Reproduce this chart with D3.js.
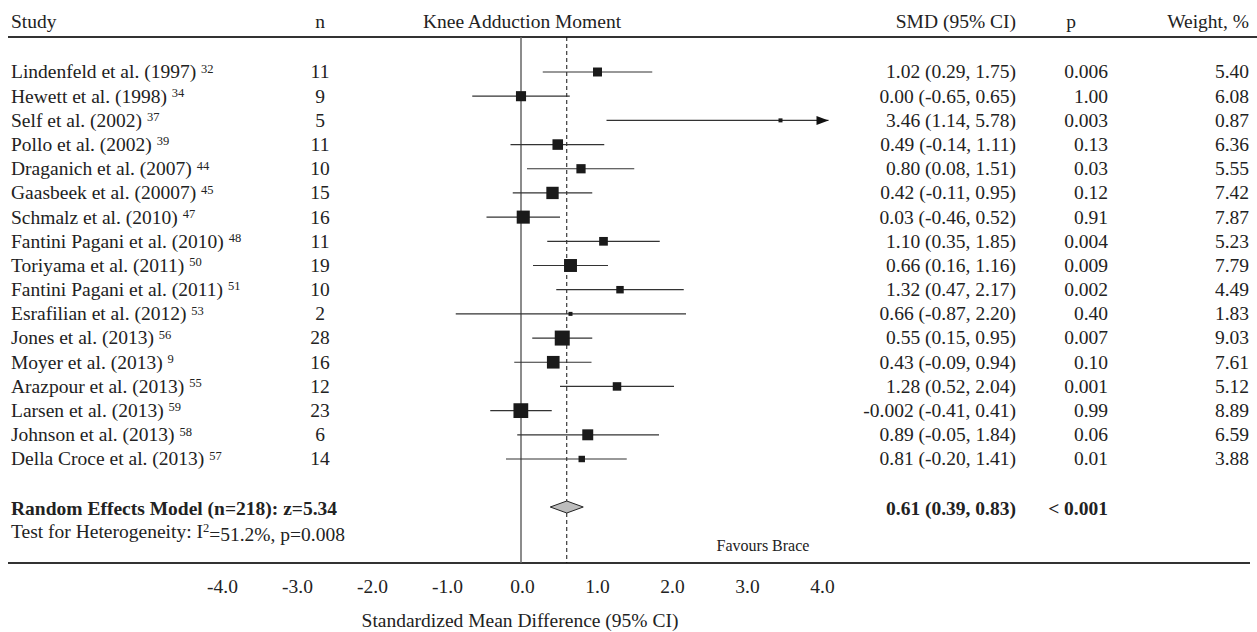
<!DOCTYPE html>
<html>
<head>
<meta charset="utf-8">
<script src="https://cdn.jsdelivr.net/npm/d3@7"></script>
<style>
  body { margin: 0; background: #fff; }
  text { font-family: "Liberation Serif", "Times New Roman", serif; fill: #222; }
</style>
</head>
<body>
<svg id="chart"></svg>
<script>
    // study rows
    var studies = ["Lindenfeld et al. (1997)", "Hewett et al. (1998)", "Self et al. (2002)", "Pollo et al. (2002)",
        "Draganich et al. (2007)", "Gaasbeek et al. (20007)", "Schmalz et al. (2010)", "Fantini Pagani et al. (2010)",
        "Toriyama et al. (2011)", "Fantini Pagani et al. (2011)", "Esrafilian et al. (2012)", "Jones et al. (2013)",
        "Moyer et al. (2013)", "Arazpour et al. (2013)", "Larsen et al. (2013)", "Johnson et al. (2013)",
        "Della Croce et al. (2013)"];
    var refs = ["32", "34", "37", "39", "44", "45", "47", "48", "50", "51", "53", "56", "9", "55", "59", "58", "57"];
    var nList = [11, 9, 5, 11, 10, 15, 16, 11, 19, 10, 2, 28, 16, 12, 23, 6, 14];
    var smd = [1.02, 0.00, 3.46, 0.49, 0.80, 0.42, 0.03, 1.10, 0.66, 1.32, 0.66, 0.55, 0.43, 1.28, -0.002, 0.89, 0.81];
    var ciLow = [0.29, -0.65, 1.14, -0.14, 0.08, -0.11, -0.46, 0.35, 0.16, 0.47, -0.87, 0.15, -0.09, 0.52, -0.41, -0.05, -0.20];
    var ciHigh = [1.75, 0.65, 5.78, 1.11, 1.51, 0.95, 0.52, 1.85, 1.16, 2.17, 2.20, 0.95, 0.94, 2.04, 0.41, 1.84, 1.41];
    var smdText = ["1.02 (0.29, 1.75)", "0.00 (-0.65, 0.65)", "3.46 (1.14, 5.78)", "0.49 (-0.14, 1.11)",
        "0.80 (0.08, 1.51)", "0.42 (-0.11, 0.95)", "0.03 (-0.46, 0.52)", "1.10 (0.35, 1.85)", "0.66 (0.16, 1.16)",
        "1.32 (0.47, 2.17)", "0.66 (-0.87, 2.20)", "0.55 (0.15, 0.95)", "0.43 (-0.09, 0.94)", "1.28 (0.52, 2.04)",
        "-0.002 (-0.41, 0.41)", "0.89 (-0.05, 1.84)", "0.81 (-0.20, 1.41)"];
    var pText = ["0.006", "1.00", "0.003", "0.13", "0.03", "0.12", "0.91", "0.004", "0.009", "0.002", "0.40",
        "0.007", "0.10", "0.001", "0.99", "0.06", "0.01"];
    var weights = [5.40, 6.08, 0.87, 6.36, 5.55, 7.42, 7.87, 5.23, 7.79, 4.49, 1.83, 9.03, 7.61, 5.12, 8.89, 6.59, 3.88];

    // pooled estimate
    var pooled = { est: 0.61, lo: 0.39, hi: 0.83 };
    var pooledLabel = "Random Effects Model (n=218): z=5.34";
    var pooledText = "0.61 (0.39, 0.83)";
    var pooledP = "< 0.001";

    var xTicks = [-4, -3, -2, -1, 0, 1, 2, 3, 4];
    var xMaxShown = 4.1;

    var W = 1257, H = 632;
    var FS = "19.5px";
    var svg = d3.select("#chart").attr("width", W).attr("height", H);

    var x = d3.scaleLinear().domain([-4, 4]).range([221, 821]);
    var y = d3.scaleLinear().domain([0, studies.length - 1]).range([72, 459]);
    var boxSize = d3.scaleLinear().domain([0, 9.03]).range([0, 15]);

    var topY = 37, bottomY = 563, diamondY = 507;

    // header
    var head = svg.append("g").style("font-size", FS);
    head.append("text").attr("x", 11).attr("y", 28).text("Study");
    head.append("text").attr("x", 320).attr("y", 28).attr("text-anchor", "middle").text("n");
    head.append("text").attr("x", 522).attr("y", 28).attr("text-anchor", "middle").text("Knee Adduction Moment");
    head.append("text").attr("x", 1016).attr("y", 28).attr("text-anchor", "end").text("SMD (95% CI)");
    head.append("text").attr("x", 1071).attr("y", 28).attr("text-anchor", "middle").text("p");
    head.append("text").attr("x", 1249).attr("y", 28).attr("text-anchor", "end").text("Weight, %");

    svg.append("line").attr("x1", 8).attr("x2", W).attr("y1", topY).attr("y2", topY)
        .attr("stroke", "#333").attr("stroke-width", 2);
    svg.append("line").attr("x1", 8).attr("x2", 1250).attr("y1", bottomY).attr("y2", bottomY)
        .attr("stroke", "#333").attr("stroke-width", 2);

    // reference lines
    svg.append("line").attr("x1", x(0)).attr("x2", x(0)).attr("y1", topY).attr("y2", bottomY)
        .attr("stroke", "#666").attr("stroke-width", 1.5);
    svg.append("line").attr("x1", x(pooled.est)).attr("x2", x(pooled.est)).attr("y1", topY).attr("y2", bottomY)
        .attr("stroke", "#111").attr("stroke-width", 1).attr("stroke-dasharray", "4,3");

    var idx = d3.range(studies.length);

    // table rows
    var rows = svg.append("g").style("font-size", FS);
    var lab = rows.selectAll(".lab").data(idx).enter().append("text")
        .attr("x", 11).attr("y", i => y(i)).attr("dy", "0.33em");
    lab.append("tspan").text(i => studies[i] + " ");
    lab.append("tspan").attr("dy", "-0.45em").style("font-size", "12.5px").text(i => refs[i]);

    rows.selectAll(".n").data(idx).enter().append("text")
        .attr("x", 320).attr("y", i => y(i)).attr("dy", "0.33em").attr("text-anchor", "middle")
        .text(i => nList[i]);
    rows.selectAll(".smd").data(idx).enter().append("text")
        .attr("x", 1016).attr("y", i => y(i)).attr("dy", "0.33em").attr("text-anchor", "end")
        .text(i => smdText[i]);
    rows.selectAll(".p").data(idx).enter().append("text")
        .attr("x", 1108).attr("y", i => y(i)).attr("dy", "0.33em").attr("text-anchor", "end")
        .text(i => pText[i]);
    rows.selectAll(".w").data(idx).enter().append("text")
        .attr("x", 1249).attr("y", i => y(i)).attr("dy", "0.33em").attr("text-anchor", "end")
        .text(i => weights[i].toFixed(2));

    // CI lines
    var marks = svg.append("g");
    marks.selectAll(".ci").data(idx).enter().append("line")
        .attr("x1", i => x(ciLow[i]))
        .attr("x2", i => x(Math.min(ciHigh[i], xMaxShown)))
        .attr("y1", i => y(i)).attr("y2", i => y(i))
        .attr("stroke", "#333").attr("stroke-width", 1.2);

    // arrow heads for truncated intervals
    marks.selectAll(".arrow").data(idx.filter(i => ciHigh[i] > xMaxShown)).enter().append("path")
        .attr("d", i => {
            var tx = x(xMaxShown), ty = y(i);
            return "M" + tx + "," + ty + "L" + (tx - 12) + "," + (ty - 4.5) + "L" + (tx - 12) + "," + (ty + 4.5) + "Z";
        })
        .attr("fill", "#111");

    var side = i => Math.max(4, boxSize(weights[i]));
    marks.selectAll(".box").data(idx).enter().append("rect")
        .attr("x", i => x(smd[i]) - side(i) / 2)
        .attr("y", i => y(i) - side(i) / 2)
        .attr("width", side)
        .attr("height", side)
        .attr("fill", "#1a1a1a");

    // pooled diamond
    svg.append("path")
        .attr("d", "M" + x(pooled.lo) + "," + diamondY + "L" + x(pooled.est) + "," + (diamondY - 6) +
            "L" + x(pooled.hi) + "," + diamondY + "L" + x(pooled.est) + "," + (diamondY + 6) + "Z")
        .attr("fill", "#bdbdbd").attr("stroke", "#222").attr("stroke-width", 1);

    var summary = svg.append("g").style("font-size", FS);
    summary.append("text").attr("x", 11).attr("y", 515).style("font-weight", "bold").text(pooledLabel);
    summary.append("text").attr("x", 1016).attr("y", 515).attr("text-anchor", "end")
        .style("font-weight", "bold").text(pooledText);
    summary.append("text").attr("x", 1108).attr("y", 515).attr("text-anchor", "end")
        .style("font-weight", "bold").text(pooledP);
    var het = summary.append("text").attr("x", 11).attr("y", 538);
    het.append("tspan").text("Test for Heterogeneity: I");
    het.append("tspan").attr("dy", "-0.45em").style("font-size", "12.5px").text("2");
    het.append("tspan").attr("dy", "0.45em").text("=51.2%, p=0.008");

    svg.append("text").attr("x", 763).attr("y", 551).attr("text-anchor", "middle")
        .style("font-size", "16px").text("Favours Brace");

    // x axis
    var fmt = d3.format(".1f");
    var axis = svg.append("g").attr("transform", "translate(0," + 576 + ")")
        .call(d3.axisBottom(x).tickValues(xTicks).tickSize(0)
            .tickFormat(d => fmt(d).replace("\u2212", "-")));
    axis.select(".domain").remove();
    axis.selectAll("text")
        .style("font-family", "'Liberation Serif', 'Times New Roman', serif")
        .style("font-size", FS).attr("fill", "#222").attr("dx", 1);

    svg.append("text").attr("x", 520).attr("y", 627).attr("text-anchor", "middle")
        .style("font-size", FS).text("Standardized Mean Difference (95% CI)");
</script>
</body>
</html>
